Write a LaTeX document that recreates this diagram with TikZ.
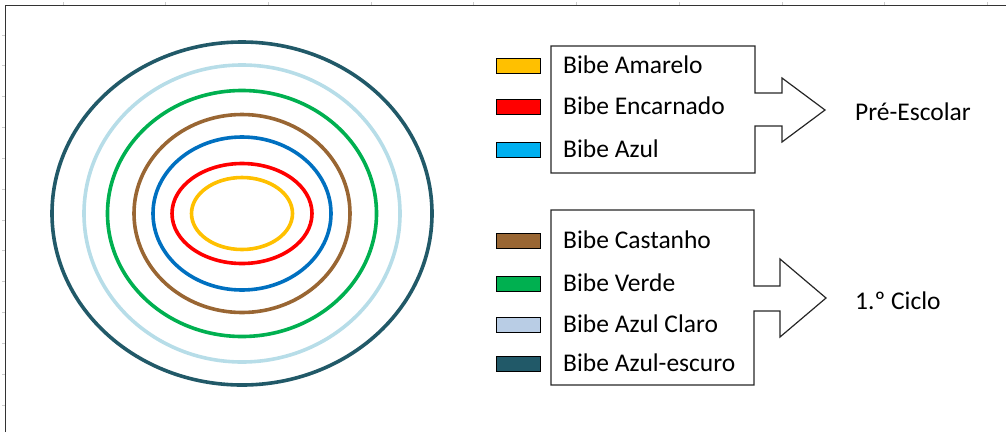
\documentclass[tikz,border=0pt]{standalone}
\usepackage{fontspec}
\setmainfont{Carlito}
\usetikzlibrary{positioning}
\definecolor{ringyellow}{HTML}{FFC000}
\definecolor{ringred}{HTML}{FF0000}
\definecolor{ringblue}{HTML}{0070C0}
\definecolor{ringbrown}{HTML}{996633}
\definecolor{ringgreen}{HTML}{00B050}
\definecolor{ringlight}{HTML}{B7DDE8}
\definecolor{ringteal}{HTML}{215968}
\definecolor{keyblue}{HTML}{00B0F0}
\definecolor{keylight}{HTML}{B9CDE5}
\tikzset{
  ring/.style={line width=3.6pt},
  swatch/.style={draw=black, line width=0.8pt, minimum width=44pt, minimum height=15pt, inner sep=0pt},
  keytext/.style={anchor=base west, inner sep=0pt, font=\fontsize{25.5}{30}\selectfont},
  callout/.style={draw=black!85, line width=1.2pt},
  frameline/.style={draw=black!80, line width=1.6pt},
  tick/.style={draw=black!20, line width=0.8pt}
}
\begin{document}
\begin{tikzpicture}[x=1pt,y=-1pt]
\useasboundingbox (0,0) rectangle (1006,432);
% frame of the chart area
\foreach \i in {0,...,9} \draw [tick] (63+102.7*\i,2) -- (63+102.7*\i,5);
\foreach \i in {0,...,12} \draw [tick] (2,35+30.83*\i) -- (5,35+30.83*\i);
\draw [frameline] (5.5,432) -- (5.5,5.5) -- (1006,5.5);
% rings
\coordinate (centro) at (242,213.5);
\draw [ring, ringteal] (centro) ellipse [x radius=190, y radius=171.5];
\draw [ring, ringlight] (centro) ellipse [x radius=158, y radius=148.5];
\draw [ring, ringgreen] (centro) ellipse [x radius=134.5, y radius=123];
\draw [ring, ringbrown] (centro) ellipse [x radius=108, y radius=99];
\draw [ring, ringblue] (centro) ellipse [x radius=89, y radius=76.5];
\draw [ring, ringred] (centro) ellipse [x radius=70, y radius=50];
\draw [ring, ringyellow] (centro) ellipse [x radius=50.5, y radius=36];
% Pre-Escolar group
\draw [callout] (551,46) -- (755,46) -- (755,93) -- (782,93) -- (782,78) -- (825,110)
  -- (782,142) -- (782,126) -- (755,126) -- (755,173) -- (551,173) -- cycle;
\node [swatch, fill=ringyellow] (amarelo) at (518,66) {};
\node [swatch, fill=ringred] (encarnado) at (518,106.5) {};
\node [swatch, fill=keyblue] (azul) at (518,149.5) {};
\node [keytext] (tamarelo) at (563,73.5) {Bibe Amarelo};
\node [keytext] (tencarnado) at (563,114) {Bibe Encarnado};
\node [keytext] (tazul) at (563,157) {Bibe Azul};
\node [keytext] (pre) at (855,120) {Pré-Escolar};
% 1o Ciclo group
\draw [callout] (551,210) -- (754,210) -- (754,286) -- (780,286) -- (780,259) -- (826,298)
  -- (780,337) -- (780,311) -- (754,311) -- (754,385) -- (551,385) -- cycle;
\node [swatch, fill=ringbrown] (castanho) at (518,240.5) {};
\node [swatch, fill=ringgreen] (verde) at (518,284) {};
\node [swatch, fill=keylight] (claro) at (518,324.5) {};
\node [swatch, fill=ringteal] (escuro) at (518,364) {};
\node [keytext] (tcastanho) at (563,248) {Bibe Castanho};
\node [keytext] (tverde) at (563,291.5) {Bibe Verde};
\node [keytext] (tclaro) at (563,332) {Bibe Azul Claro};
\node [keytext] (tescuro) at (563,371.5) {Bibe Azul-escuro};
\node [keytext] (ciclo) at (855,309) {1.º Ciclo};
\end{tikzpicture}
\end{document}
